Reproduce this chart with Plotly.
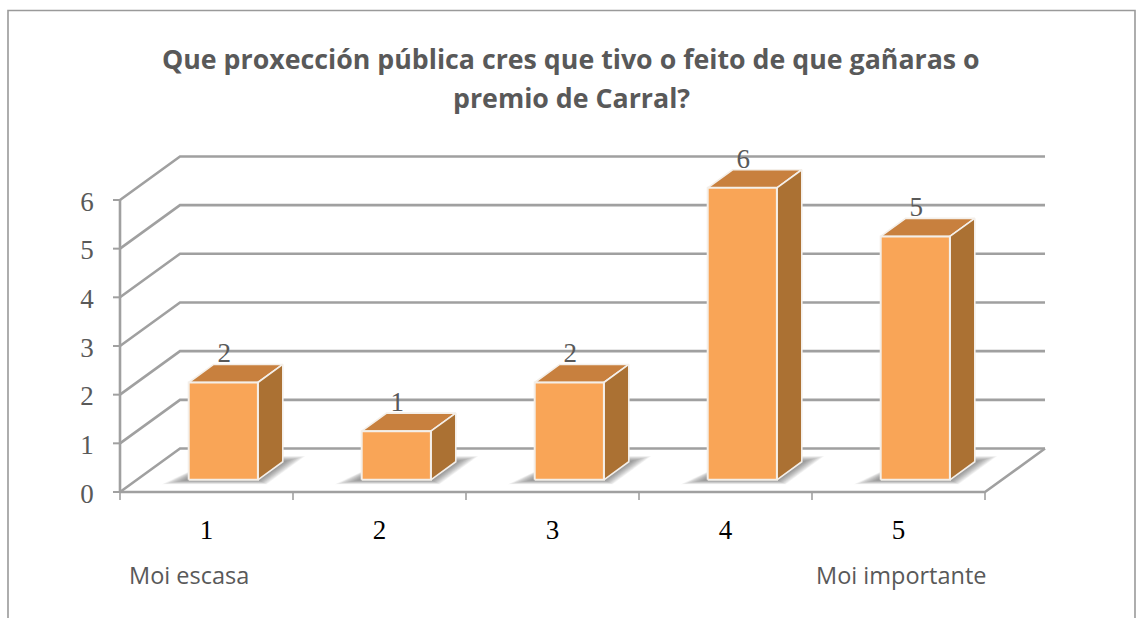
import plotly.graph_objects as go

# --- data ---
categories = ["1", "2", "3", "4", "5"]
values = [2, 1, 2, 6, 5]
y_ticks = [0, 1, 2, 3, 4, 5, 6]
title_lines = ["Que proxección pública cres que tivo o feito de que gañaras o", "premio de Carral?"]
low_label = "Moi escasa"
high_label = "Moi importante"

# --- oblique projection (category position, value, depth) -> page pixels ---
X0, Y0 = 120.0, 492.0
CAT_W = 173.0
UNIT = 48.67
DX, DY = 60.0, 43.5


def proj(c, v, z):
    return X0 + CAT_W * c + DX * z, Y0 - UNIT * v - DY * z


GRID = "#a0a0a0"
FRONT, TOP, SIDE = "#F9A557", "#C8803E", "#AB7133"
EDGE = "#f4efe9"
TEXT = "#595959"
SERIF = "Liberation Serif"
SANS = "Open Sans"

BAR_HALF = 0.2
Z1, Z2 = 0.28, 0.695

fig = go.Figure()


def line(pts, color=GRID, width=2.6):
    fig.add_trace(go.Scatter(x=[p[0] for p in pts], y=[p[1] for p in pts], mode="lines",
                             line=dict(color=color, width=width), hoverinfo="skip", showlegend=False))


def poly(pts, fill, color=None, width=0):
    pts = pts + [pts[0]]
    fig.add_trace(go.Scatter(x=[p[0] for p in pts], y=[p[1] for p in pts], mode="lines", fill="toself",
                             fillcolor=fill, line=dict(color=color or "rgba(0,0,0,0)", width=width),
                             hoverinfo="skip", showlegend=False))


n = len(categories)
# walls and floor
for t in y_ticks:
    line([proj(0, t, 0), proj(0, t, 1), proj(n, t, 1)])
line([proj(0, 0, 0), proj(n, 0, 0), proj(n, 0, 1)])
line([proj(0, 0, 0), proj(0, max(y_ticks), 0)])
# tick marks
for t in y_ticks:
    a = proj(0, t, 0)
    line([(a[0] - 7, a[1]), a], width=2)
for i in range(n + 1):
    a = proj(i, 0, 0)
    line([a, (a[0], a[1] + 8)], width=1.6)

# bars
LAYERS = 16
for i, v in enumerate(values):
    c = i + 0.5
    l, r = c - BAR_HALF, c + BAR_HALF
    # soft floor shadow as stacked translucent layers, widest first
    for k in range(LAYERS):
        g = 1 - k / LAYERS
        sl, sr = l - 0.12 * g, r + 0.085 * g
        zf, zb = Z1 - 0.10 * g, Z2 + 0.13 * g
        poly([proj(sl, 0, zf), proj(sr, 0, zf), proj(sr, 0, zb), proj(sl + 0.12 * g, 0, zb)],
             "rgba(80,80,80,0.05)")
    poly([proj(l, v, Z1), proj(r, v, Z1), proj(r, v, Z2), proj(l, v, Z2)], TOP, EDGE, 1.6)
    poly([proj(r, 0, Z1), proj(r, 0, Z2), proj(r, v, Z2), proj(r, v, Z1)], SIDE, EDGE, 1.6)
    poly([proj(l, 0, Z1), proj(r, 0, Z1), proj(r, v, Z1), proj(l, v, Z1)], FRONT, EDGE, 2)

# value labels above bars
vx, vy = zip(*[proj(i + 0.5, v, Z2) for i, v in enumerate(values)])
fig.add_trace(go.Scatter(x=[x - 24 for x in vx], y=[y - 9 for y in vy], mode="text",
                         text=[str(v) for v in values], textposition="middle center",
                         textfont=dict(family=SERIF, size=27, color=TEXT), hoverinfo="skip", showlegend=False))
# y tick labels
fig.add_trace(go.Scatter(x=[proj(0, t, 0)[0] - 33 for t in y_ticks], y=[proj(0, t, 0)[1] + 4 for t in y_ticks],
                         mode="text", text=[str(t) for t in y_ticks], textposition="middle center",
                         textfont=dict(family=SERIF, size=27, color=TEXT), hoverinfo="skip", showlegend=False))
# category labels
fig.add_trace(go.Scatter(x=[proj(i + 0.5, 0, 0)[0] for i in range(n)], y=[Y0 + 40] * n, mode="text",
                         text=categories, textposition="middle center",
                         textfont=dict(family=SERIF, size=27, color="#000000"), hoverinfo="skip", showlegend=False))

ann = [
    dict(x=571, y=58, text="<b>" + title_lines[0] + "</b>", showarrow=False, xanchor="center", yanchor="middle",
         font=dict(family=SANS, size=26.75, color=TEXT)),
    dict(x=571, y=97, text="<b>" + title_lines[1] + "</b>", showarrow=False, xanchor="center", yanchor="middle",
         font=dict(family=SANS, size=26.75, color=TEXT)),
    dict(x=127, y=574.5, text=low_label, showarrow=False, xanchor="left", yanchor="middle",
         font=dict(family=SANS, size=23.5, color=TEXT)),
    dict(x=989, y=574.5, text=high_label, showarrow=False, xanchor="right", yanchor="middle",
         font=dict(family=SANS, size=23.5, color=TEXT)),
]

fig.update_layout(
    width=1141, height=618, margin=dict(l=0, r=0, t=0, b=0), showlegend=False,
    paper_bgcolor="white", plot_bgcolor="white", annotations=ann,
    xaxis=dict(range=[0, 1141], visible=False, fixedrange=True),
    yaxis=dict(range=[618, 0], visible=False, fixedrange=True),
    shapes=[dict(type="rect", x0=8, x1=1135, y0=10.5, y1=640, line=dict(color="#9a9a9a", width=1.6), layer="below")],
)
fig.write_html("out.html", config={"displayModeBar": False},
               post_script="document.body.style.margin='0';document.documentElement.style.overflow='hidden';")
